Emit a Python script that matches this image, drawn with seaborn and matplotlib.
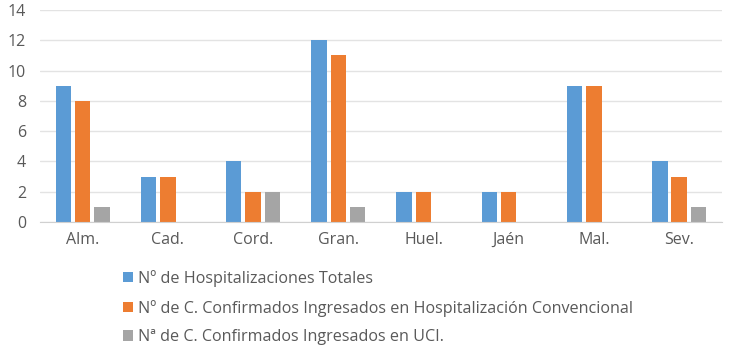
import matplotlib
matplotlib.use("Agg")
import matplotlib.pyplot as plt
import seaborn as sns
import pandas as pd

categories = ["Alm.", "Cad.", "Cord.", "Gran.", "Huel.", "Jaén", "Mal.", "Sev."]
series_names = [
    "Nº de Hospitalizaciones Totales",
    "Nº de C. Confirmados Ingresados en Hospitalización Convencional",
    "Nª de C. Confirmados Ingresados en UCI.",
]
totales = [9, 3, 4, 12, 2, 2, 9, 4]
convencional = [8, 3, 2, 11, 2, 2, 9, 3]
uci = [1, 0, 2, 1, 0, 0, 0, 1]
colors = ["#5B9BD5", "#ED7D31", "#A5A5A5"]

rows = []
for name, vals in zip(series_names, [totales, convencional, uci]):
    for c, v in zip(categories, vals):
        rows.append({"cat": c, "serie": name, "valor": v})
df = pd.DataFrame(rows)

sns.set_style("white")
plt.rcParams["font.family"] = ["Open Sans", "DejaVu Sans"]

fig = plt.figure(figsize=(7.41, 3.52), dpi=100)
ax = fig.add_axes([0.054, 0.369, 0.92, 0.603])
sns.barplot(data=df, x="cat", y="valor", hue="serie", palette=colors,
            width=0.68, gap=0.2, ax=ax, legend=True, saturation=1, linewidth=0)

ax.set_ylim(0, 14)
ax.set_yticks(range(0, 15, 2))
ax.set_xlim(-0.5, len(categories) - 0.5)
ax.set_xlabel("")
ax.set_ylabel("")
ax.grid(axis="y", color="#E3E3E3", linewidth=1)
ax.set_axisbelow(True)
for s in ["top", "right", "left"]:
    ax.spines[s].set_visible(False)
ax.spines["bottom"].set_color("#D0D0D0")
ax.tick_params(axis="both", length=0, labelsize=11.5, colors="#595959")
ax.tick_params(axis="x", pad=7)
ax.tick_params(axis="y", pad=10)

h, l = ax.get_legend_handles_labels()
ax.legend_.remove()
fig.legend(h, l, loc="upper left", bbox_to_anchor=(0.157, 0.252), frameon=False,
           fontsize=11.6, labelcolor="#595959", handlelength=0.65, handleheight=0.65,
           handletextpad=0.3, labelspacing=0.8, borderaxespad=0)

fig.savefig("out.png", dpi=100)
